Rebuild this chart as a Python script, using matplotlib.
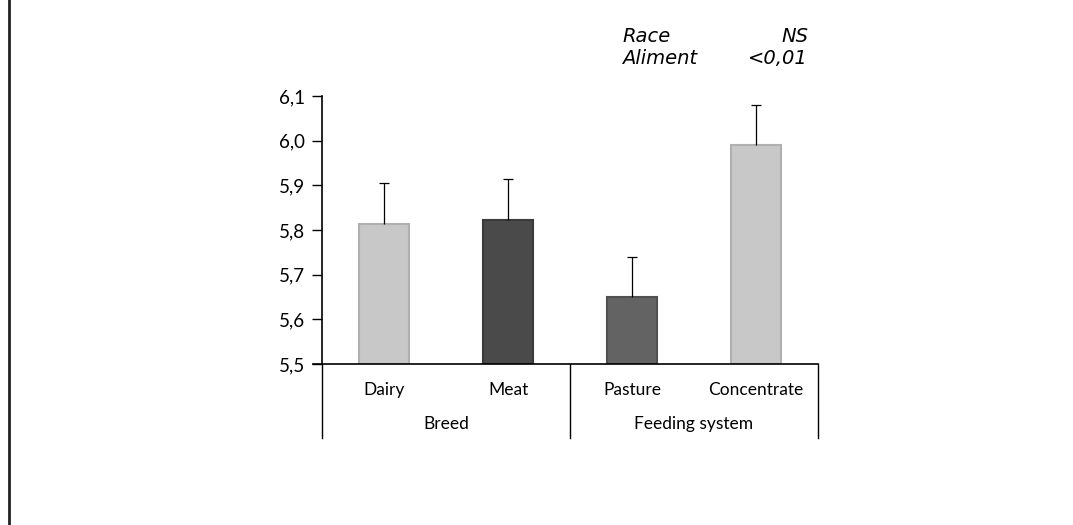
import matplotlib.pyplot as plt
import numpy as np
from matplotlib.lines import Line2D
import matplotlib.transforms as mtransforms

plt.rcParams['font.family'] = ['Lato', 'DejaVu Sans']

categories = ['Dairy', 'Meat', 'Pasture', 'Concentrate']
groups = ['Breed', 'Feeding system']
means = [5.813, 5.823, 5.650, 5.990]
errors = [0.092, 0.092, 0.090, 0.090]
bar_colors = ['#c8c8c8', '#4a4a4a', '#636363', '#c8c8c8']
edge_colors = ['#b0b0b0', '#3a3a3a', '#505050', '#b0b0b0']
yticks = [5.5, 5.6, 5.7, 5.8, 5.9, 6.0, 6.1]
ytick_labels = ['5,5', '5,6', '5,7', '5,8', '5,9', '6,0', '6,1']
stats_names = ['Race', 'Aliment']
stats_values = ['NS', '<0,01']

fig = plt.figure(figsize=(10.73, 5.25), dpi=100)
ax = fig.add_axes([0.3001, 0.3067, 0.4623, 0.5105])

x = np.arange(len(categories))
ax.bar(x, np.array(means) - 5.5, bottom=5.5, width=0.40, color=bar_colors,
       edgecolor=edge_colors, linewidth=1.5, zorder=2)
# upper error bars only, with cap on top
tops = np.array(means) + np.array(errors)
ax.vlines(x, means, tops, color='black', lw=0.9, zorder=3)
ax.plot(x, tops, ls='none', marker='_', ms=7, mew=0.9, color='black', zorder=3)

ax.set_xlim(-0.5, 3.5)
ax.set_ylim(5.5, 6.1)
ax.set_yticks(yticks)
ax.set_yticklabels(ytick_labels, fontsize=13.5)
ax.tick_params(axis='y', direction='out', length=7, width=1, pad=5)
ax.set_xticks([])
for s in ['top', 'right', 'bottom']:
    ax.spines[s].set_visible(False)
ax.spines['left'].set_linewidth(1.2)

# x axis line (slightly beyond the y axis on the left)
ax.add_line(Line2D([-0.018, 1.0], [0, 0], transform=ax.transAxes,
                   color='black', lw=1.2, clip_on=False))

# multi-level category axis
trans = mtransforms.blended_transform_factory(ax.transData, ax.transAxes)
for xs in [-0.5, 1.5, 3.5]:
    ax.add_line(Line2D([xs, xs], [0, -0.276], transform=trans,
                       color='black', lw=1.0, clip_on=False))
for i, c in enumerate(categories):
    ax.text(x[i], -0.097, c, transform=trans, ha='center', va='center',
            fontsize=12.5)
for i, g in enumerate(groups):
    ax.text(0.5 + 2 * i, -0.224, g, transform=trans, ha='center',
            va='center', fontsize=12.5)

# statistics text
for i, (n, v) in enumerate(zip(stats_names, stats_values)):
    ypos = 1 - (37 + i * 22) / 525
    fig.text(622 / 1073, ypos, n, ha='left', va='center', fontsize=14,
             style='italic', family=['DejaVu Sans'])
    fig.text(808 / 1073, ypos, v, ha='right', va='center', fontsize=14,
             style='italic', family=['DejaVu Sans'])

# left frame line
fig.add_artist(Line2D([9 / 1073, 9 / 1073], [0, 1], transform=fig.transFigure,
                      color='#222222', lw=2))

fig.savefig('out.png', dpi=100)
